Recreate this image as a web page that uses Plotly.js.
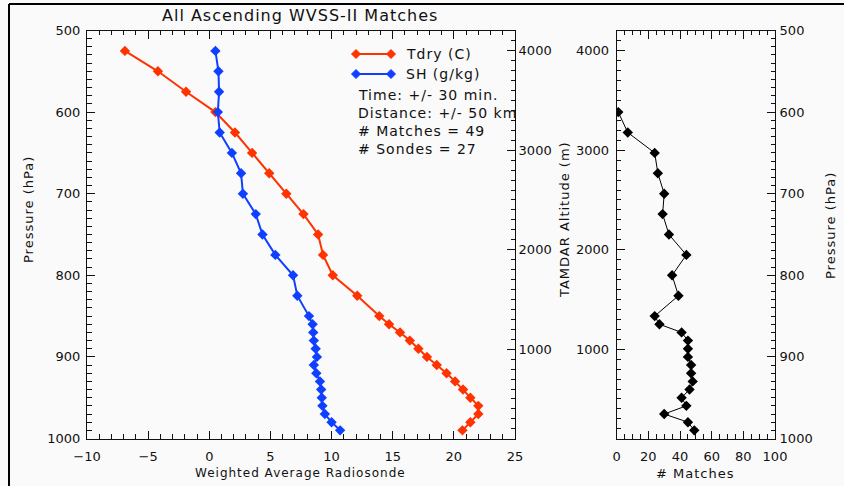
<!DOCTYPE html>
<html>
<head>
<meta charset="utf-8">
<script src="https://cdn.plot.ly/plotly-3.0.1.min.js"></script>
<style>
  html, body { margin: 0; padding: 0; background: #fafafa; }
  #chart { width: 844px; height: 486px; }
  /* wide, plotter-style lettering for the free text */
  .annotation-text { letter-spacing: 1px; }
</style>
</head>
<body>
<div id="chart"></div>
<script>
// Pressure levels (hPa) of the weighted-average radiosonde profile
const levels = [525, 550, 575, 600, 625, 650, 675, 700, 725, 750, 775, 800, 825, 850,
                860, 870, 880, 890, 900, 910, 920, 930, 940, 950, 960, 970, 980, 990];
// Dry-bulb temperature (C)
const tdry = [-6.9, -4.2, -1.9, 0.5, 2.1, 3.5, 4.9, 6.3, 7.7, 8.9, 9.3, 10.1, 12.1, 13.9,
              14.7, 15.6, 16.4, 17.1, 17.8, 18.6, 19.4, 20.1, 20.75, 21.35, 22.0, 22.0, 21.35, 20.7];
// Specific humidity (g/kg)
const sh = [0.5, 0.75, 0.8, 0.7, 0.85, 1.85, 2.6, 2.75, 3.8, 4.35, 5.4, 6.85, 7.2, 8.15,
            8.45, 8.5, 8.55, 8.7, 8.8, 8.55, 8.75, 9.05, 9.15, 9.2, 9.25, 9.45, 10.0, 10.7];
// Number of WVSS-II matches per level
const matchLevels = [600, 625, 650, 675, 700, 725, 750, 775, 800, 825, 850,
                     860, 870, 880, 890, 900, 910, 920, 930, 940, 950, 960, 970, 980, 990];
const matches = [1, 7, 24, 26, 30, 29, 33, 44, 35, 39, 24,
                 27, 41, 45, 45, 45, 47, 47, 48, 46, 41, 44, 30, 45, 49];

const seriesNames = ['Tdry (C)', 'SH (g/kg)'];
const infoLines = ['Time: +/- 30 min.', 'Distance: +/- 50 km', '# Matches = 49', '# Sondes = 27'];

const RED = '#ff3300';
const BLUE = '#1040ff';
const INK = '#111111';
const FONT = 'DejaVu Sans, sans-serif';
const W = 844, H = 486;

// pixel helpers for paper-positioned decorations
const px = x => x / W;
const py = y => 1 - y / H;

const yDom = [py(438.5), py(30.5)];
const pRange = [1000, 500];
const altRange = [103, 4203];

const baseAxis = {
  showgrid: false, zeroline: false, showline: true, linecolor: INK, linewidth: 1,
  ticks: 'inside', ticklen: 8, tickwidth: 1, tickcolor: INK,
  tickfont: {family: FONT, size: 13, color: INK}
};
const minorTicks = dt => ({dtick: dt, ticks: 'inside', ticklen: 4.5, tickwidth: 1, tickcolor: INK, showgrid: false});

const traces = [
  // empty traces so the altitude axes get their own subplots
  {x: [], y: [], xaxis: 'x', yaxis: 'y2', type: 'scatter', mode: 'markers', hoverinfo: 'skip'},
  {x: [], y: [], xaxis: 'x2', yaxis: 'y3', type: 'scatter', mode: 'markers', hoverinfo: 'skip'},
  {x: tdry, y: levels, xaxis: 'x', yaxis: 'y', type: 'scatter', mode: 'lines+markers',
   name: seriesNames[0], line: {color: RED, width: 2},
   marker: {symbol: 'diamond', size: 8, color: RED}},
  {x: sh, y: levels, xaxis: 'x', yaxis: 'y', type: 'scatter', mode: 'lines+markers',
   name: seriesNames[1], line: {color: BLUE, width: 2},
   marker: {symbol: 'diamond', size: 8, color: BLUE}},
  {x: matches, y: matchLevels, xaxis: 'x2', yaxis: 'y4', type: 'scatter', mode: 'lines+markers',
   name: '# Matches', line: {color: '#000', width: 1},
   marker: {symbol: 'diamond', size: 8, color: '#000'}}
];

// legend samples: line with a diamond at each end
function diamond(cx, cy, r, color) {
  return {type: 'path', xref: 'paper', yref: 'paper',
    path: `M ${px(cx - r)},${py(cy)} L ${px(cx)},${py(cy - r)} L ${px(cx + r)},${py(cy)} L ${px(cx)},${py(cy + r)} Z`,
    fillcolor: color, line: {color: color, width: 1}};
}
function legendSample(y, color) {
  return [
    {type: 'line', xref: 'paper', yref: 'paper', x0: px(356), x1: px(391), y0: py(y), y1: py(y),
     line: {color: color, width: 2}},
    diamond(356, y, 4.5, color), diamond(391, y, 4.5, color)
  ];
}

const shapes = [
  // window frame
  {type: 'line', xref: 'paper', yref: 'paper', x0: px(9), x1: px(9), y0: 0, y1: py(4), line: {color: '#000', width: 2}},
  {type: 'line', xref: 'paper', yref: 'paper', x0: px(9), x1: 1, y0: py(4), y1: py(4), line: {color: '#000', width: 2}},
  ...legendSample(54, RED),
  ...legendSample(74, BLUE)
];

function label(text, x, y, opts) {
  return Object.assign({text: text, xref: 'paper', yref: 'paper', x: px(x), y: py(y),
    showarrow: false, font: {family: FONT, size: 13, color: INK},
    xanchor: 'center', yanchor: 'middle'}, opts || {});
}
const f = s => ({family: FONT, size: s, color: INK});

const annotations = [
  label('All Ascending WVSS-II Matches', 300, 16, {font: f(16)}),
  label('Pressure (hPa)', 29, 210, {textangle: -90}),
  label('TAMDAR Altitude (m)', 565, 220, {textangle: -90}),
  label('Pressure (hPa)', 830, 226, {textangle: -90}),
  label('Weighted Average Radiosonde', 300, 473, {font: f(12)}),
  label('# Matches', 695, 473),
  label(seriesNames[0], 404, 54, {xanchor: 'left', font: f(14)}),
  label(seriesNames[1], 404, 74, {xanchor: 'left', font: f(14)}),
  ...infoLines.map((t, i) => label(t, 356, [95, 113, 131, 149][i], {xanchor: 'left', font: f(14)}))
];

const layout = {
  width: W, height: H,
  margin: {l: 0, r: 0, t: 0, b: 0},
  paper_bgcolor: '#fafafa', plot_bgcolor: '#fafafa',
  showlegend: false,
  xaxis: Object.assign({}, baseAxis, {
    domain: [px(87), px(515)], anchor: 'y', range: [-10, 25], dtick: 5, tick0: 0,
    mirror: 'ticks', ticklabelstandoff: 6, minor: minorTicks(1)
  }),
  yaxis: Object.assign({}, baseAxis, {
    domain: yDom, anchor: 'x', range: pRange, dtick: 100, tick0: 0,
    ticklabelstandoff: 3, minor: minorTicks(10)
  }),
  yaxis2: Object.assign({}, baseAxis, {
    overlaying: 'y', anchor: 'x', side: 'right', range: altRange, dtick: 1000, tick0: 0,
    ticklabelstandoff: 0, minor: minorTicks(100)
  }),
  xaxis2: Object.assign({}, baseAxis, {
    domain: [px(616.7), px(775)], anchor: 'y3', range: [0, 100], dtick: 20, tick0: 0,
    mirror: 'ticks', ticklabelstandoff: 6, minor: minorTicks(5)
  }),
  yaxis3: Object.assign({}, baseAxis, {
    domain: yDom, anchor: 'x2', side: 'left', range: altRange, dtick: 1000, tick0: 0,
    ticklabelstandoff: 4, minor: minorTicks(100)
  }),
  yaxis4: Object.assign({}, baseAxis, {
    overlaying: 'y3', anchor: 'x2', side: 'right', range: pRange, dtick: 100, tick0: 0,
    ticklabelstandoff: 1, minor: minorTicks(10)
  }),
  shapes: shapes,
  annotations: annotations
};

Plotly.newPlot('chart', traces, layout, {staticPlot: true, displayModeBar: false});
</script>
</body>
</html>
